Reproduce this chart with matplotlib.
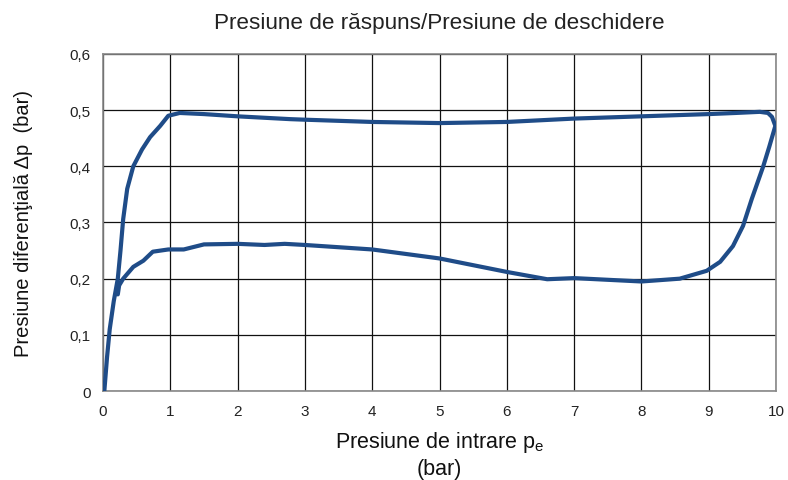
import matplotlib
matplotlib.use("Agg")
import matplotlib.pyplot as plt

plt.rcParams['font.family'] = ['Liberation Sans', 'DejaVu Sans']
plt.rcParams['mathtext.fontset'] = 'custom'
plt.rcParams['mathtext.rm'] = 'Liberation Sans'

# Curve (single path: up steep branch, along top, down right side, back along bottom)
x_vals = [0.02, 0.06, 0.10, 0.16, 0.22, 0.26, 0.30, 0.36, 0.45, 0.58, 0.70, 0.85, 0.97, 1.14,
          1.5, 2.0, 2.78, 3.0, 4.0, 5.0, 6.0, 7.0, 8.0, 9.0, 9.4, 9.76, 9.88, 9.94, 9.99,
          9.90, 9.81, 9.64, 9.51, 9.36, 9.17, 8.97, 8.57, 8.0, 7.5, 7.0, 6.6, 6.0, 5.0, 4.0,
          3.0, 2.7, 2.4, 2.0, 1.5, 1.2, 0.97, 0.74, 0.60, 0.45, 0.30, 0.24, 0.22]
y_vals = [0.000, 0.060, 0.110, 0.160, 0.200, 0.250, 0.306, 0.360, 0.400, 0.430, 0.452, 0.472, 0.490, 0.495,
          0.493, 0.489, 0.484, 0.483, 0.479, 0.477, 0.479, 0.485, 0.489, 0.493, 0.495, 0.497, 0.495, 0.488, 0.472,
          0.435, 0.400, 0.342, 0.294, 0.258, 0.230, 0.214, 0.200, 0.195, 0.198, 0.201, 0.199, 0.212, 0.236, 0.252,
          0.260, 0.262, 0.260, 0.262, 0.261, 0.252, 0.252, 0.248, 0.232, 0.221, 0.200, 0.188, 0.172]

x_ticks = list(range(0, 11))
y_ticks = [0, 0.1, 0.2, 0.3, 0.4, 0.5, 0.6]
y_tick_labels = ["0", "0,1", "0,2", "0,3", "0,4", "0,5", "0,6"]

fig = plt.figure(figsize=(7.88, 4.81), dpi=100)
ax = fig.add_axes([0.1307, 0.185, 0.8541, 0.7007])

ax.plot(x_vals, y_vals, color='#1f4c88', lw=3.0, solid_joinstyle='round', solid_capstyle='round', zorder=3)

ax.set_xlim(0, 10)
ax.set_ylim(0, 0.6)
ax.set_xticks(x_ticks)
ax.set_yticks(y_ticks)
ax.set_yticklabels(y_tick_labels)
ax.tick_params(axis='x', length=0, labelsize=11, pad=9, colors='#222222')
ax.tick_params(axis='y', length=0, labelsize=11, pad=9, colors='#222222')
ax.grid(True, color='#111111', lw=0.9, zorder=1)
for s in ax.spines.values():
    s.set_color('#888888')
    s.set_linewidth(1.2)

ax.set_title("Presiune de răspuns/Presiune de deschidere", fontsize=16.2, pad=19, color='#222222')
ax.set_ylabel("Presiune diferenţială Δp  (bar)", fontsize=14.5, labelpad=26, color='#111111')
ax.set_xlabel("Presiune de intrare p$_{\\mathrm{e}}$\n(bar)", fontsize=15.5, labelpad=8, color='#111111', linespacing=1.25)

fig.savefig("out.png", dpi=100)
